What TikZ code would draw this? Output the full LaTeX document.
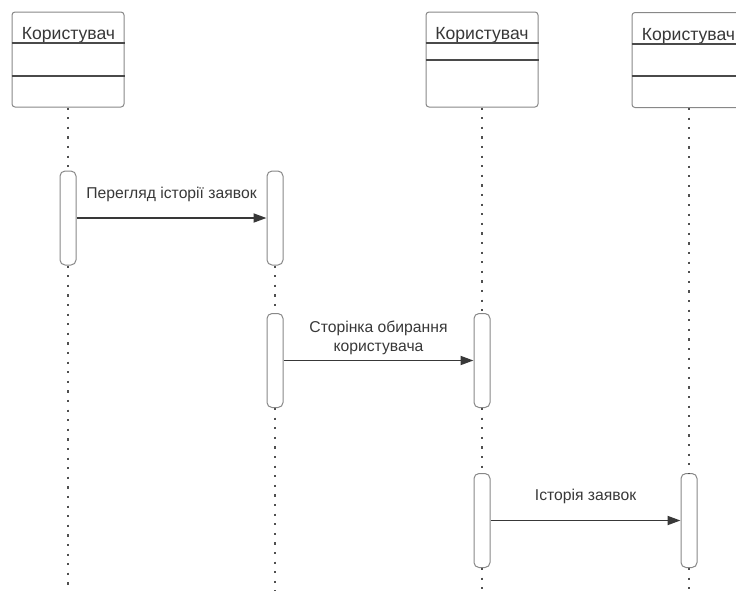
\documentclass[tikz,border=0pt]{standalone}
\usepackage{fontspec}
\setmainfont{Liberation Sans}
\usetikzlibrary{arrows.meta,calc}
\definecolor{framegray}{HTML}{888888}
\definecolor{rulegray}{HTML}{4A4A4A}
\definecolor{inkgray}{HTML}{383838}
\definecolor{dotgray}{HTML}{505050}

\tikzset{
  header/.style={draw=framegray, line width=1pt, rounded corners=3pt,
    minimum width=112pt, minimum height=95pt, inner sep=0pt, fill=white},
  headtext/.style={text=inkgray, font=\fontsize{17.6}{20}\selectfont, inner sep=0pt, anchor=base},
  separator/.style={draw=rulegray, line width=1.3pt},
  lifeline/.style={draw=dotgray, line width=1.9pt, dash pattern=on 2.2pt off 7.4pt},
  activation/.style={draw=framegray, line width=1pt, rounded corners=5pt, fill=white,
    minimum width=16pt, minimum height=94pt, inner sep=0pt},
  msg/.style={draw=inkgray, line width=1.8pt, -{Triangle[length=13pt,width=9pt]}},
  msglabel/.style={text=inkgray, font=\fontsize{15.7}{18}\selectfont, inner sep=0pt,
    align=center, anchor=base}
}

\begin{document}
\begin{tikzpicture}[x=1pt, y=-1pt]
\clip (0,0) rectangle (736,590);
\useasboundingbox (0,0) rectangle (736,590);

% lifeline heads
\node[header] (h1) at (68,59.5) {};
\node[header] (h3) at (482,59.5) {};
\node[header, minimum width=114pt] (h4) at (689,60) {};

\node[headtext] (t1) at (68.5,39.5) {Користувач};
\node[headtext] (t3) at (482,39.5) {Користувач};
\node[headtext] (t4) at (688.5,40) {Користувач};

% compartment separators
\draw[separator] (h1.west |- 0,43) -- (h1.east |- 0,43);
\draw[separator] (h1.west |- 0,76) -- (h1.east |- 0,76);
\draw[separator] (h3.west |- 0,43) -- (h3.east |- 0,43);
\draw[separator] (h3.west |- 0,60) -- (h3.east |- 0,60);
\draw[separator] (h4.west |- 0,44) -- (h4.east |- 0,44);
\draw[separator] (h4.west |- 0,76) -- (h4.east |- 0,76);

% lifeline ends
\coordinate (e1) at (68,592);
\coordinate (e2) at (275,592);
\coordinate (e3) at (482,592);
\coordinate (e4) at (689,592);

% activation bars
\node[activation] (a1) at (68,218) {};
\node[activation] (a2) at (275,218) {};
\node[activation] (a3) at (275,360.5) {};
\node[activation] (a4) at (482,360.5) {};
\node[activation] (a5) at (482,520.5) {};
\node[activation] (a6) at (689,520.5) {};

% dotted lifelines between heads and bars
\draw[lifeline] (h1.south) -- (a1.north);
\draw[lifeline] (a1.south) -- (e1);
\draw[lifeline] (a2.south) -- (a3.north);
\draw[lifeline] (a3.south) -- (e2);
\draw[lifeline] (h3.south) -- (a4.north);
\draw[lifeline] (a4.south) -- (a5.north);
\draw[lifeline] (a5.south) -- (e3);
\draw[lifeline] (h4.south) -- (a6.north);
\draw[lifeline] (a6.south) -- (e4);

% messages
\draw[msg] (a1.east) -- node[msglabel, midway, yshift=19.5pt] (m1) {Перегляд історії заявок} (a2.west);
\draw[msg] (a3.east) -- node[msglabel, midway, yshift=9.5pt] (m2) {Сторінка обирання\\[1pt]користувача} (a4.west);
\draw[msg] (a5.east) -- node[msglabel, midway, yshift=20.5pt] (m3) {Історія заявок} (a6.west);
\end{tikzpicture}
\end{document}
